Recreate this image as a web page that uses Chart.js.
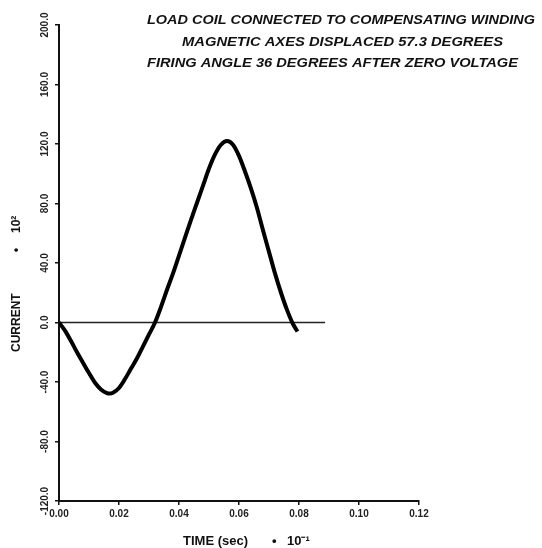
<!DOCTYPE html>
<html lang="en">
<head>
    <meta charset="UTF-8">
    <title>Load coil current</title>
    <style>
        html, body { margin: 0; padding: 0; background: #fff; }
        #box { width: 542px; height: 548px; }
    </style>
</head>
<body>
    <div id="box"><canvas id="currentChart"></canvas></div>

<script src="https://cdn.jsdelivr.net/npm/chart.js"></script>
<script>
    // values (time in sec * 10^-1, current * 10^2)
    const timeValues = [0, 0.002, 0.004, 0.006, 0.008, 0.010, 0.012, 0.014, 0.016, 0.017, 0.018, 0.020,
        0.022, 0.024, 0.026, 0.028, 0.030, 0.032, 0.034, 0.036, 0.038, 0.040, 0.042, 0.044, 0.046,
        0.048, 0.050, 0.052, 0.054, 0.056, 0.058, 0.060, 0.062, 0.064, 0.066, 0.068, 0.070, 0.072,
        0.074, 0.076, 0.078, 0.0795];
    const currentValues = [0, -5.5, -12.5, -20, -27, -34, -40.5, -45, -47.5, -47.8, -47.2, -44,
        -38, -31, -24, -16, -8, 0, 10.5, 22, 33, 45, 57, 69, 80.5,
        92, 103.5, 113, 119.5, 122, 119.5, 112, 101.5, 90, 77, 62, 47.5, 33,
        20, 8.5, -1, -6];
    const zeroLineEnd = 0.0887;

    const xTicks = [0, 0.02, 0.04, 0.06, 0.08, 0.10, 0.12];
    const yTicks = [-120, -80, -40, 0, 40, 80, 120, 160, 200];

    const titleLines = [
        'LOAD COIL CONNECTED TO COMPENSATING WINDING',
        'MAGNETIC AXES DISPLACED 57.3 DEGREES',
        'FIRING ANGLE 36 DEGREES AFTER ZERO VOLTAGE'
    ];
    const xTitleParts = ['TIME (sec)', '\u2022', '10\u207B\u00B9'];
    const yTitleParts = ['CURRENT', '\u2022', '10\u00B2'];

    // header text, axis titles, rotated y tick labels
    const extras = {
        id: 'extras',
        afterDraw(chart) {
            const ctx = chart.ctx;
            ctx.save();
            ctx.fillStyle = '#111';
            ctx.font = 'italic bold 12px "Liberation Sans", Arial, sans-serif';
            ctx.textBaseline = 'middle';
            const spots = [[147, 21, 388], [182, 43, 321], [147, 64, 371]];
            titleLines.forEach((line, i) => {
                const [x, y, w] = spots[i];
                const mw = ctx.measureText(line).width;
                ctx.save();
                ctx.translate(x, y);
                ctx.scale(w / mw, 1);
                ctx.textAlign = 'left';
                ctx.fillText(line, 0, 0);
                ctx.restore();
            });

            // axis titles
            ctx.font = 'bold 13px "Liberation Sans", Arial, sans-serif';
            ctx.textAlign = 'left';
            const xs = [183, 272, 287];
            xTitleParts.forEach((p, i) => ctx.fillText(p, xs[i], 541));

            ctx.save();
            ctx.translate(17, 0);
            ctx.rotate(-Math.PI / 2);
            const ys = [297, 250, 203];
            ctx.font = 'bold 12px "Liberation Sans", Arial, sans-serif';
            // rotated frame: x' = -y
            yTitleParts.forEach((p, i) => {
                const w = ctx.measureText(p).width;
                const start = i === 0 ? 352 : (i === 1 ? ys[1] + w / 2 : 233);
                ctx.fillText(p, -start, 0);
            });
            ctx.restore();

            const yScale = chart.scales.y;
            ctx.font = 'bold 10px "Liberation Sans", Arial, sans-serif';
            ctx.fillStyle = '#222';
            ctx.textAlign = 'center';
            yTicks.forEach(v => {
                const py = yScale.getPixelForValue(v);
                ctx.save();
                ctx.translate(45, py);
                ctx.rotate(-Math.PI / 2);
                ctx.fillText(v.toFixed(1), 0, 0);
                ctx.restore();
            });
            ctx.restore();
        }
    };

    const ctx = document.getElementById('currentChart').getContext('2d');
    const chart = new Chart(ctx, {
        type: 'line',
        data: {
            datasets: [{
                label: 'Current',
                data: timeValues.map((t, i) => ({ x: t, y: currentValues[i] })),
                borderColor: '#000',
                borderWidth: 4,
                pointRadius: 0,
                cubicInterpolationMode: 'monotone',
                fill: false
            }, {
                label: 'Zero',
                data: [{ x: 0, y: 0 }, { x: zeroLineEnd, y: 0 }],
                borderColor: '#222',
                borderWidth: 1.5,
                pointRadius: 0,
                fill: false
            }]
        },
        options: {
            responsive: true,
            maintainAspectRatio: false,
            animation: false,
            layout: { padding: { left: 0, top: 25, right: 123, bottom: 0 } },
            plugins: {
                legend: { display: false },
                tooltip: { enabled: false }
            },
            scales: {
                x: {
                    type: 'linear',
                    min: 0,
                    max: 0.12,
                    afterBuildTicks: s => { s.ticks = xTicks.map(v => ({ value: v })); },
                    afterFit: s => { s.height = 47; },
                    border: { color: '#111', width: 2 },
                    grid: { drawOnChartArea: false, color: '#111', lineWidth: 1.5, tickLength: 4 },
                    ticks: {
                        color: '#222',
                        padding: 3,
                        maxRotation: 0,
                        font: { family: '"Liberation Sans", Arial, sans-serif', size: 10, weight: 'bold' },
                        callback: v => v.toFixed(2)
                    },
                    title: { display: false }
                },
                y: {
                    type: 'linear',
                    min: -120,
                    max: 200,
                    afterBuildTicks: s => { s.ticks = yTicks.map(v => ({ value: v })); },
                    afterFit: s => { s.width = 59; },
                    border: { color: '#111', width: 2 },
                    grid: { drawOnChartArea: false, color: '#111', lineWidth: 1.5, tickLength: 4 },
                    ticks: { display: false },
                    title: { display: false }
                }
            }
        },
        plugins: [extras]
    });
</script>
</body>
</html>
